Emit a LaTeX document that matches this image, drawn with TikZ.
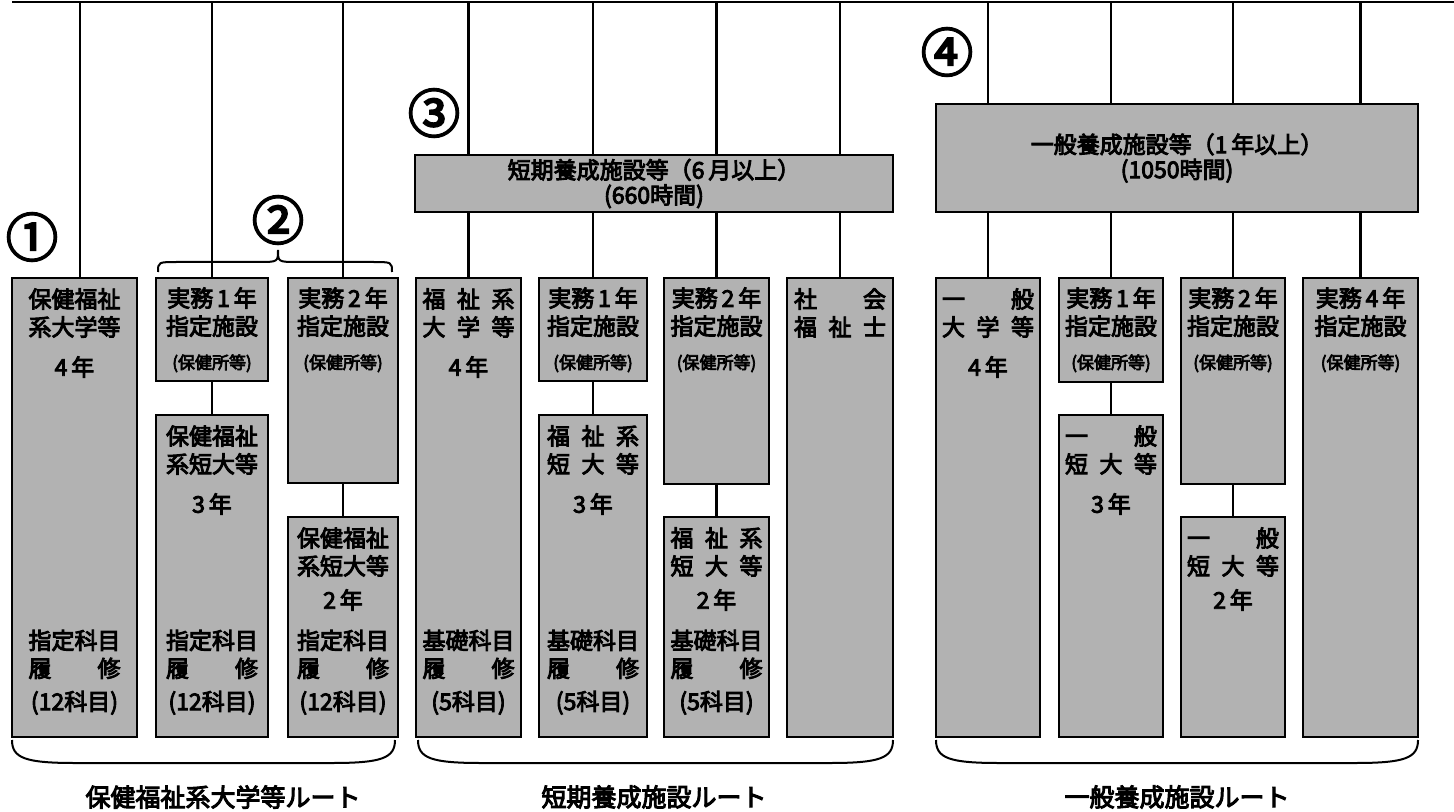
\documentclass[tikz,border=0pt]{standalone}
\usepackage{fontspec}
\setmainfont{Noto Sans CJK JP}[FakeBold=4]
\usetikzlibrary{positioning}

\begin{document}
\begin{tikzpicture}[x=0.5pt,y=-0.5pt]
\tikzset{course/.style={draw,line width=1.4pt,fill=black!30,inner sep=0pt,outer sep=0pt}}
\tikzset{hub/.style={course,align=center,font={\fontsize{11.5}{12.5}\selectfont}}}
\tikzset{link/.style={line width=1.3pt}}
\tikzset{toptext/.style={align=center,inner sep=0pt,font={\fontsize{11.5}{14}\selectfont}}}
\tikzset{foottext/.style={toptext}}
\tikzset{num/.style={inner sep=0pt,font={\fontsize{26}{26}\selectfont}}}
\tikzset{route/.style={inner sep=0pt,font={\fontsize{12.5}{14}\selectfont}}}
\tikzset{bracket/.style={line width=1pt}}
\useasboundingbox (0,0) rectangle (1454,812);

% top line
\coordinate (topL) at (12,2);
\coordinate (topR) at (1454,2);
\draw[link] (topL) -- (topR);

% route 1
\node[course,minimum width=62.5pt,minimum height=229.5pt] (r1univ) at (74.5,507.5) {};
\node[toptext,below=5pt of r1univ.north] (r1univ-t) {保健福祉\\系大学等\\[6pt]4\,年};
\node[foottext,above=11pt of r1univ.south] (r1univ-b) {指定科目\\履\hspace{2em}修\\[2.5pt](12科目)};
\node[course,minimum width=56pt,minimum height=51.5pt] (r1w1) at (212,329.5) {};
\node[toptext,below=4.5pt of r1w1.north] (r1w1-t) {実務\,1\,年\\指定施設\\[3pt]{\fontsize{8.5}{10}\selectfont(保健所等)}};
\node[course,minimum width=56pt,minimum height=161pt] (r1jc3) at (212,576) {};
\node[toptext,below=5pt of r1jc3.north] (r1jc3-t) {保健福祉\\系短大等\\[6pt]3\,年};
\node[foottext,above=11pt of r1jc3.south] (r1jc3-b) {指定科目\\履\hspace{2em}修\\[2.5pt](12科目)};
\node[course,minimum width=55pt,minimum height=102.5pt] (r1w2) at (343,380.5) {};
\node[toptext,below=4.5pt of r1w2.north] (r1w2-t) {実務\,2\,年\\指定施設\\[3pt]{\fontsize{8.5}{10}\selectfont(保健所等)}};
\node[course,minimum width=55pt,minimum height=110pt] (r1jc2) at (343,627) {};
\node[toptext,below=5pt of r1jc2.north] (r1jc2-t) {保健福祉\\系短大等\\[3pt]2\,年};
\node[foottext,above=11pt of r1jc2.south] (r1jc2-b) {指定科目\\履\hspace{2em}修\\[2.5pt](12科目)};

% route 3
\node[hub,minimum width=239pt,minimum height=28.5pt] (short) at (654,183.5) {短期養成施設等（6\,月以上）\\(660時間)};
\node[course,minimum width=52.5pt,minimum height=229.5pt] (r3univ) at (468.5,507.5) {};
\node[toptext,below=5pt of r3univ.north] (r3univ-t) {福\enspace 祉\enspace 系\\大\enspace 学\enspace 等\\[6pt]4\,年};
\node[foottext,above=11pt of r3univ.south] (r3univ-b) {基礎科目\\履\hspace{2em}修\\[2.5pt](5科目)};
\node[course,minimum width=54pt,minimum height=51.5pt] (r3w1) at (593,329.5) {};
\node[toptext,below=4.5pt of r3w1.north] (r3w1-t) {実務\,1\,年\\指定施設\\[3pt]{\fontsize{8.5}{10}\selectfont(保健所等)}};
\node[course,minimum width=54pt,minimum height=161pt] (r3jc3) at (593,576) {};
\node[toptext,below=5pt of r3jc3.north] (r3jc3-t) {福\enspace 祉\enspace 系\\短\enspace 大\enspace 等\\[6pt]3\,年};
\node[foottext,above=11pt of r3jc3.south] (r3jc3-b) {基礎科目\\履\hspace{2em}修\\[2.5pt](5科目)};
\node[course,minimum width=52.5pt,minimum height=103pt] (r3w2) at (716.5,381) {};
\node[toptext,below=4.5pt of r3w2.north] (r3w2-t) {実務\,2\,年\\指定施設\\[3pt]{\fontsize{8.5}{10}\selectfont(保健所等)}};
\node[course,minimum width=52.5pt,minimum height=110pt] (r3jc2) at (716.5,627) {};
\node[toptext,below=5pt of r3jc2.north] (r3jc2-t) {福\enspace 祉\enspace 系\\短\enspace 大\enspace 等\\[3pt]2\,年};
\node[foottext,above=11pt of r3jc2.south] (r3jc2-b) {基礎科目\\履\hspace{2em}修\\[2.5pt](5科目)};
\node[course,minimum width=53pt,minimum height=229.5pt] (r3csw) at (840,507.5) {};
\node[toptext,below=5pt of r3csw.north] (r3csw-t) {社\hspace{2em}会\\福\enspace 祉\enspace 士};

% route 4
\node[hub,minimum width=241pt,minimum height=54pt] (general) at (1177,158) {一般養成施設等（1\,年以上）\\(1050時間)};
\node[course,minimum width=52pt,minimum height=229.5pt] (r4univ) at (988,507.5) {};
\node[toptext,below=5pt of r4univ.north] (r4univ-t) {一\hspace{2em}般\\大\enspace 学\enspace 等\\[6pt]4\,年};
\node[course,minimum width=52pt,minimum height=52pt] (r4w1) at (1111,330) {};
\node[toptext,below=4.5pt of r4w1.north] (r4w1-t) {実務\,1\,年\\指定施設\\[3pt]{\fontsize{8.5}{10}\selectfont(保健所等)}};
\node[course,minimum width=52pt,minimum height=161pt] (r4jc3) at (1111,576) {};
\node[toptext,below=5pt of r4jc3.north] (r4jc3-t) {一\hspace{2em}般\\短\enspace 大\enspace 等\\[6pt]3\,年};
\node[course,minimum width=52pt,minimum height=103pt] (r4w2) at (1233,381) {};
\node[toptext,below=4.5pt of r4w2.north] (r4w2-t) {実務\,2\,年\\指定施設\\[3pt]{\fontsize{8.5}{10}\selectfont(保健所等)}};
\node[course,minimum width=52pt,minimum height=110pt] (r4jc2) at (1233,627) {};
\node[toptext,below=5pt of r4jc2.north] (r4jc2-t) {一\hspace{2em}般\\短\enspace 大\enspace 等\\[3pt]2\,年};
\node[course,minimum width=57.5pt,minimum height=229.5pt] (r4w4) at (1360.5,507.5) {};
\node[toptext,below=4.5pt of r4w4.north] (r4w4-t) {実務\,4\,年\\指定施設\\[3pt]{\fontsize{8.5}{10}\selectfont(保健所等)}};

% drops from the top line
\coordinate (r1drop) at ([xshift=2.75pt]r1univ.north);
\draw[link] (r1drop) -- (r1drop |- topL);
\draw[link] (r1w1.north) -- (r1w1.north |- topL);
\draw[link] (r1w2.north) -- (r1w2.north |- topL);
\draw[link] (r3univ.north) -- (r3univ.north |- short.south);
\draw[link] (r3univ.north |- short.north) -- (r3univ.north |- topL);
\draw[link] (r3w1.north) -- (r3w1.north |- short.south);
\draw[link] (r3w1.north |- short.north) -- (r3w1.north |- topL);
\draw[link] (r3w2.north) -- (r3w2.north |- short.south);
\draw[link] (r3w2.north |- short.north) -- (r3w2.north |- topL);
\draw[link] (r3csw.north) -- (r3csw.north |- short.south);
\draw[link] (r3csw.north |- short.north) -- (r3csw.north |- topL);
\draw[link] (r4univ.north) -- (r4univ.north |- general.south);
\draw[link] (r4univ.north |- general.north) -- (r4univ.north |- topL);
\draw[link] (r4w1.north) -- (r4w1.north |- general.south);
\draw[link] (r4w1.north |- general.north) -- (r4w1.north |- topL);
\draw[link] (r4w2.north) -- (r4w2.north |- general.south);
\draw[link] (r4w2.north |- general.north) -- (r4w2.north |- topL);
\draw[link] (r4w4.north) -- (r4w4.north |- general.south);
\draw[link] (r4w4.north |- general.north) -- (r4w4.north |- topL);

% stacked courses
\draw[link] (r1w1) -- (r1jc3);
\draw[link] (r1w2) -- (r1jc2);
\draw[link] (r3w1) -- (r3jc3);
\draw[link] (r3w2) -- (r3jc2);
\draw[link] (r4w1) -- (r4jc3);
\draw[link] (r4w2) -- (r4jc2);

% numbers and brackets
\node[num] (n1) at (32,237) {①};
\node[num] (n2) at (278,220) {②};
\node[num] (n3) at (434,113) {③};
\node[num] (n4) at (947,52) {④};
\draw[bracket] (158,272) .. controls (158,262) .. (178,262) -- (258,262) .. controls (278,262) .. (278,250) .. controls (278,262) .. (298,262) -- (372,262) .. controls (392,262) .. (392,272);
\draw[bracket] (12,740) .. controls (12,758) and (25,763) .. (75,763) -- (332,763) .. controls (382,763) and (395,758) .. (395,740);
\draw[bracket] (418,740) .. controls (418,758) and (431,763) .. (481,763) -- (830,763) .. controls (880,763) and (893,758) .. (893,740);
\draw[bracket] (936,740) .. controls (936,758) and (949,763) .. (999,763) -- (1355,763) .. controls (1405,763) and (1418,758) .. (1418,740);

\node[route] (route1) at (223,797) {保健福祉系大学等ルート};
\node[route] (route2) at (654,797) {短期養成施設ルート};
\node[route] (route3) at (1177,797) {一般養成施設ルート};
\end{tikzpicture}
\end{document}
